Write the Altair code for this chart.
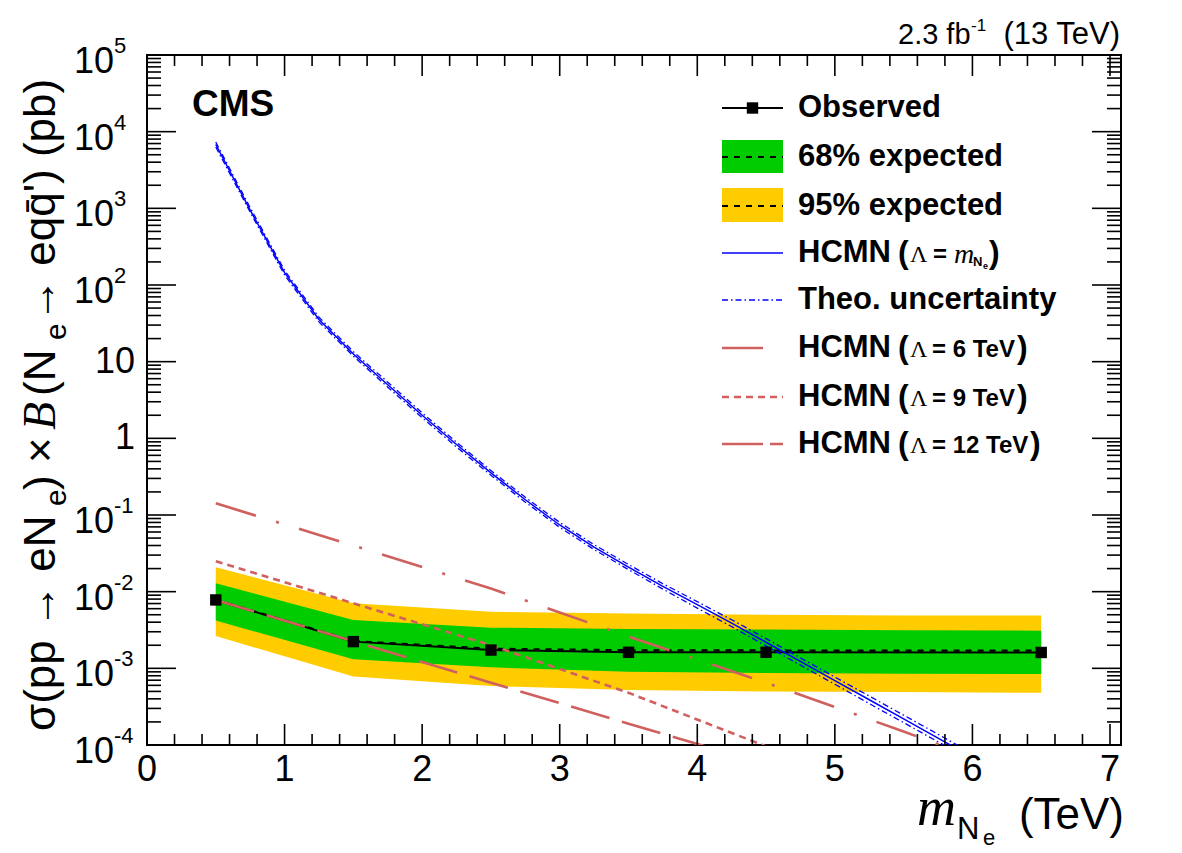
import altair as alt
import numpy as np
import pandas as pd

# ---------------- data ----------------
mass = [0.5, 1.5, 2.5, 3.5, 4.5, 5.5, 6.5]
exp_median = [7.8e-3, 2.27e-3, 1.80e-3, 1.72e-3, 1.71e-3, 1.70e-3, 1.70e-3]
exp_68_lo = [4.2e-3, 1.31e-3, 1.03e-3, 9.0e-4, 8.7e-4, 8.5e-4, 8.45e-4]
exp_68_hi = [1.29e-2, 4.27e-3, 3.39e-3, 3.26e-3, 3.2e-3, 3.15e-3, 3.1e-3]
exp_95_lo = [2.64e-3, 7.8e-4, 5.9e-4, 5.2e-4, 5.0e-4, 4.9e-4, 4.8e-4]
exp_95_hi = [2.08e-2, 7.05e-3, 5.48e-3, 5.2e-3, 5.0e-3, 4.9e-3, 4.87e-3]

obs_mass = [0.5, 1.5, 2.5, 3.5, 4.5, 6.5]
obs_limit = [7.8e-3, 2.23e-3, 1.73e-3, 1.62e-3, 1.62e-3, 1.61e-3]

hcmn_mass = [0.5, 0.75, 1.0, 1.25, 1.5, 1.75, 2.0, 2.25, 2.5, 2.75, 3.0, 3.25,
             3.5, 3.75, 4.0, 4.25, 4.5, 4.75, 5.0, 5.25, 5.5, 5.75, 6.0]
hcmn_xsec = [6.8e3, 9.5e2, 1.45e2, 35.5, 12.6, 5.0, 2.0, 0.83, 0.355, 0.158,
             0.0741, 0.038, 0.0209, 0.0117, 6.76e-3, 3.89e-3, 2.19e-3, 1.23e-3,
             6.9e-4, 3.89e-4, 2.19e-4, 1.23e-4, 6.9e-5]
hcmn_up = [7.3e3, 1.02e3, 1.55e2, 38.0, 13.5, 5.4, 2.15, 0.89, 0.38, 0.17,
           0.080, 0.041, 0.0226, 0.0127, 7.4e-3, 4.3e-3, 2.44e-3, 1.37e-3,
           7.7e-4, 4.35e-4, 2.45e-4, 1.38e-4, 7.7e-5]
hcmn_down = [6.3e3, 8.9e2, 1.35e2, 33.0, 11.8, 4.65, 1.86, 0.77, 0.33, 0.147,
             0.069, 0.0354, 0.0194, 0.0108, 6.1e-3, 3.5e-3, 1.96e-3, 1.1e-3,
             6.2e-4, 3.47e-4, 1.96e-4, 1.1e-4, 6.2e-5]

lam6_mass = [0.5, 1.5, 2.5, 3.5, 4.5]
lam6_xsec = [7.8e-3, 2.25e-3, 6.5e-4, 1.9e-4, 5.6e-5]
lam9_mass = [0.5, 1.5, 2.5, 3.5, 4.5, 5.5]
lam9_xsec = [2.5e-2, 7.05e-3, 2.0e-3, 4.8e-4, 9.6e-5, 2.0e-5]
lam12_mass = [0.5, 1.5, 2.5, 3.5, 4.5, 5.5, 6.5]
lam12_xsec = [0.142, 0.040, 1.1e-2, 2.6e-3, 6.5e-4, 1.5e-4, 3.2e-5]

x_tick_labels = ["0", "1", "2", "3", "4", "5", "6", "7"]
y_decades = [-4, -3, -2, -1, 0, 1, 2, 3, 4, 5]

# ---------------- layout ----------------
W, H = 974, 690
XMAX = 7.08
RED = "#d0605e"
BLUE = "#0000ff"
SANS = "Liberation Sans"
SERIF = "Liberation Serif"

xs = alt.Scale(domain=[0, XMAX], nice=False, zero=False)
ys = alt.Scale(type="log", domain=[1e-4, 1e5], nice=False)
X = lambda f: alt.X(f, type="quantitative", scale=xs, axis=None)
Y = lambda f: alt.Y(f, type="quantitative", scale=ys, axis=None)
Y2 = lambda f: alt.Y2(f)

bands = pd.DataFrame({"m": mass, "med": exp_median, "lo68": exp_68_lo,
                      "hi68": exp_68_hi, "lo95": exp_95_lo, "hi95": exp_95_hi})
obs = pd.DataFrame({"m": obs_mass, "v": obs_limit})
hcmn = pd.DataFrame({"m": hcmn_mass, "v": hcmn_xsec, "up": hcmn_up, "dn": hcmn_down})
l6 = pd.DataFrame({"m": lam6_mass, "v": lam6_xsec})
l9 = pd.DataFrame({"m": lam9_mass, "v": lam9_xsec})
l12 = pd.DataFrame({"m": lam12_mass, "v": lam12_xsec})

band95 = alt.Chart(bands).mark_area(color="#ffcc00", opacity=1).encode(
    x=X("m"), y=Y("lo95"), y2=Y2("hi95"))
band68 = alt.Chart(bands).mark_area(color="#00cc00", opacity=1).encode(
    x=X("m"), y=Y("lo68"), y2=Y2("hi68"))
expected = alt.Chart(bands).mark_line(color="black", strokeWidth=2.2,
                                      strokeDash=[6, 6]).encode(x=X("m"), y=Y("med"))
obs_line = alt.Chart(obs).mark_line(color="black", strokeWidth=2).encode(
    x=X("m"), y=Y("v"))
obs_pts = alt.Chart(obs).mark_square(color="black", size=130, opacity=1).encode(
    x=X("m"), y=Y("v"))

theo_c = alt.Chart(hcmn).mark_line(color=BLUE, strokeWidth=1.5, clip=True).encode(
    x=X("m"), y=Y("v"))
theo_u = alt.Chart(hcmn).mark_line(color=BLUE, strokeWidth=1.3, clip=True,
                                   strokeDash=[6, 3, 1.5, 3]).encode(x=X("m"), y=Y("up"))
theo_d = alt.Chart(hcmn).mark_line(color=BLUE, strokeWidth=1.3, clip=True,
                                   strokeDash=[6, 3, 1.5, 3]).encode(x=X("m"), y=Y("dn"))

red6 = alt.Chart(l6).mark_line(color=RED, strokeWidth=2.6, clip=True,
                               strokeDash=[40, 13]).encode(x=X("m"), y=Y("v"))
red9 = alt.Chart(l9).mark_line(color=RED, strokeWidth=2.6, clip=True,
                               strokeDash=[7, 5]).encode(x=X("m"), y=Y("v"))
red12 = alt.Chart(l12).mark_line(color=RED, strokeWidth=2.6, clip=True,
                                 strokeDash=[42, 21, 3, 21]).encode(x=X("m"), y=Y("v"))

# ---------------- ticks (drawn inside the frame, ROOT style) ----------------
x_major = pd.DataFrame({"v": np.arange(0, 8, 1.0)})
x_minor = pd.DataFrame({"v": [v for v in np.round(np.arange(0.2, XMAX, 0.2), 2)
                              if abs(v - round(v)) > 1e-6]})
y_major = pd.DataFrame({"v": [10.0 ** e for e in y_decades]})
y_minor = pd.DataFrame({"v": [k * 10.0 ** e for e in y_decades[:-1] for k in range(2, 10)]})


def xticks(df, length):
    bot = alt.Chart(df).mark_rule(color="black", strokeWidth=1.6).encode(
        x=X("v"), y=alt.value(H), y2=alt.value(H - length))
    top = alt.Chart(df).mark_rule(color="black", strokeWidth=1.6).encode(
        x=X("v"), y=alt.value(0), y2=alt.value(length))
    return [bot, top]


def yticks(df, length):
    left = alt.Chart(df).mark_rule(color="black", strokeWidth=1.6).encode(
        y=Y("v"), x=alt.value(0), x2=alt.value(length))
    right = alt.Chart(df).mark_rule(color="black", strokeWidth=1.6).encode(
        y=Y("v"), x=alt.value(W), x2=alt.value(W - length))
    return [left, right]


ticks = xticks(x_major, 21) + xticks(x_minor, 11) + yticks(y_major, 29) + yticks(y_minor, 14)

xlab = alt.Chart(pd.DataFrame({"v": np.arange(0, 8, 1.0), "t": x_tick_labels})).mark_text(
    font=SANS, fontSize=36, baseline="top", align="center", color="black").encode(
    x=X("v"), y=alt.value(H + 8), text="t:N")

ydf = pd.DataFrame({"v": [10.0 ** e for e in y_decades], "e": y_decades})
pow_df = ydf[(ydf.e != 0) & (ydf.e != 1)].assign(s=lambda d: d.e.astype(str))
plain_df = ydf[(ydf.e == 0) | (ydf.e == 1)].assign(s=lambda d: ["1", "10"])
ylab_base = alt.Chart(pow_df).mark_text(font=SANS, fontSize=36, align="right",
                                        baseline="middle", dy=7, color="black").encode(
    y=Y("v"), x=alt.value(-33), text=alt.value("10"))
ylab_exp = alt.Chart(pow_df).mark_text(font=SANS, fontSize=22, align="left",
                                       baseline="middle", dy=-9, color="black").encode(
    y=Y("v"), x=alt.value(-33), text="s:N")
ylab_plain = alt.Chart(plain_df).mark_text(font=SANS, fontSize=36, align="right",
                                           baseline="middle", color="black").encode(
    y=Y("v"), x=alt.value(-12), text="s:N")

# ---------------- free text ----------------
one = pd.DataFrame({"a": [0]})
OX, OY = 147, 55  # page offset of the plot area


def txt(s, x, y, size, weight="normal", font=SANS, style="normal", align="left",
        baseline="middle", angle=0):
    return alt.Chart(one).mark_text(
        text=s, font=font, fontSize=size, fontWeight=weight, fontStyle=style,
        align=align, baseline=baseline, angle=angle, color="black").encode(
        x=alt.value(x - OX), y=alt.value(y - OY))


def seg(x1, x2, y, color, width, dash=None):
    kw = dict(color=color, strokeWidth=width)
    if dash:
        kw["strokeDash"] = dash
    return alt.Chart(one).mark_rule(**kw).encode(
        x=alt.value(x1 - OX), x2=alt.value(x2 - OX), y=alt.value(y - OY))


def box(x1, x2, y1, y2, color):
    return alt.Chart(one).mark_rect(color=color, opacity=1).encode(
        x=alt.value(x1 - OX), x2=alt.value(x2 - OX),
        y=alt.value(y1 - OY), y2=alt.value(y2 - OY))


def square(x, y):
    return alt.Chart(one).mark_square(color="black", size=130, opacity=1).encode(
        x=alt.value(x - OX), y=alt.value(y - OY))


texts = [
    txt("CMS", 192, 116, 37, weight="bold", baseline="alphabetic"),
    txt("2.3 fb", 898, 44, 29, baseline="alphabetic"),
    txt("-1", 971, 31, 17, baseline="alphabetic"),
    txt("(13 TeV)", 1120, 44, 31, align="right", baseline="alphabetic"),
    # x title
    txt("m", 917, 825, 54, font=SERIF, style="italic", baseline="alphabetic"),
    txt("N", 957, 839, 31, baseline="alphabetic"),
    txt("e", 983, 845, 22, baseline="alphabetic"),
    txt("(TeV)", 1124, 829, 44, align="right", baseline="alphabetic"),
]

# y title, reading upward
YB = 55
ytitle = [
    txt("σ(pp → eN", YB, 731, 44, angle=270, baseline="alphabetic"),
    txt("e", YB + 11, 506, 30, angle=270, baseline="alphabetic"),
    txt(") ×", YB, 490, 44, angle=270, baseline="alphabetic"),
    txt("B", YB, 430, 46, font=SERIF, style="italic", angle=270, baseline="alphabetic"),
    txt("(N", YB, 396, 44, angle=270, baseline="alphabetic"),
    txt("e", YB + 11, 340, 30, angle=270, baseline="alphabetic"),
    txt(" → eqq\u0304') (pb)", YB, 322, 44, angle=270, baseline="alphabetic"),
]

# legend
LX1, LX2, TX = 722, 783, 798
leg = [
    seg(LX1, LX2, 108, "black", 2), square(752.5, 108),
    txt("Observed", TX, 108, 31, weight="bold"),
    box(LX1, LX2, 140, 173, "#00cc00"), seg(LX1, LX2, 157, "black", 2, [6, 6]),
    txt("68% expected", TX, 157, 31, weight="bold"),
    box(LX1, LX2, 188, 222, "#ffcc00"), seg(LX1, LX2, 206, "black", 2, [6, 6]),
    txt("95% expected", TX, 206, 31, weight="bold"),
    seg(LX1, LX2, 253, BLUE, 1.5),
    txt("Theo. uncertainty", TX, 300, 31, weight="bold"),
    seg(LX1, LX2, 300, BLUE, 1.5, [6, 3, 1.5, 3]),
    seg(LX1, LX2, 348, RED, 2.6, [41, 30]),
    seg(LX1, LX2, 397, RED, 2.6, [7, 5]),
    seg(LX1, LX2, 444, RED, 2.6, [41, 7, 13, 30]),
]
for yy, label, close_x in [(348, "= 6 TeV", 1017), (397, "= 9 TeV", 1017), (444, "= 12 TeV", 1030)]:
    leg += [
        txt("HCMN", TX, yy, 31, weight="bold"),
        txt("(", 898, yy, 32, weight="bold"),
        txt("Λ", 910, yy + 2, 24, font=SERIF),
        txt(label, 932, yy + 2, 24, weight="bold"),
        txt(")", close_x, yy, 32, weight="bold"),
    ]
leg += [
    txt("HCMN", TX, 253, 31, weight="bold"),
    txt("(", 898, 253, 32, weight="bold"),
    txt("Λ", 910, 255, 24, font=SERIF),
    txt("=", 933, 255, 24, weight="bold"),
    txt("m", 954, 255, 28, font=SERIF, style="italic"),
    txt("N", 973, 262, 13, weight="bold"),
    txt("e", 983, 266, 9, weight="bold"),
    txt(")", 989, 253, 32, weight="bold"),
]

layers = ([band95, band68, expected, obs_line, theo_u, theo_d, theo_c,
           red6, red9, red12, obs_pts] + ticks + [xlab, ylab_base, ylab_exp, ylab_plain]
          + texts + ytitle + leg)

chart = alt.layer(*layers).properties(
    width=W, height=H,
    autosize=alt.AutoSizeParams(type="none"),
    padding={"left": OX, "top": OY, "right": 1182 - OX - W, "bottom": 853 - OY - H},
    background="white",
).configure_view(stroke="black", strokeWidth=2)

chart.save("out.html", embed_options={"renderer": "svg", "actions": False})
